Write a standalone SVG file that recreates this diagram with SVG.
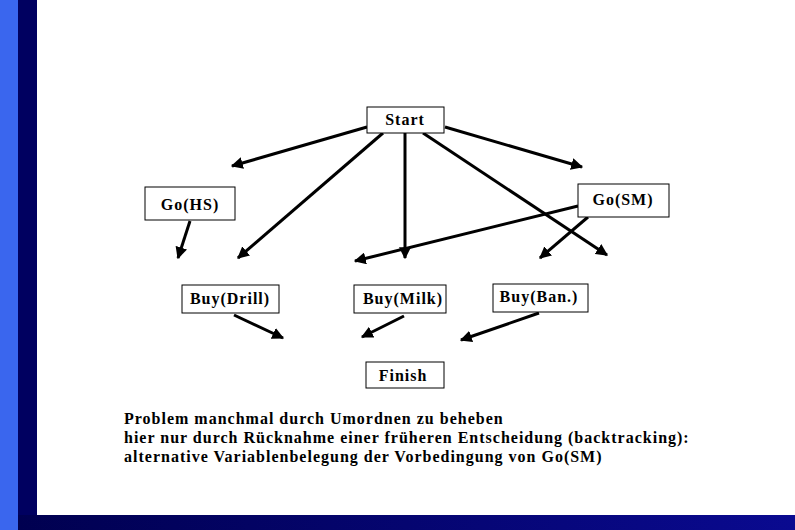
<svg xmlns="http://www.w3.org/2000/svg" width="795" height="530" viewBox="0 0 795 530">
<defs>
<linearGradient id="bot" x1="0" y1="0" x2="1" y2="0"><stop offset="0" stop-color="#000050"/><stop offset="1" stop-color="#0a0a90"/></linearGradient>
<marker id="ah" viewBox="0 0 10 10" refX="9" refY="5" markerWidth="4" markerHeight="4" orient="auto"><path d="M0,0 L10,5 L0,10 z" fill="#000"/></marker>
</defs>
<style>
.n rect{fill:#fff;stroke:#000;stroke-width:1}
.n text,.t{font-family:"Liberation Serif","DejaVu Serif",serif;font-weight:bold;font-size:16px;fill:#000;letter-spacing:1px}
.n text{text-anchor:middle}
#edges line{stroke:#000;stroke-width:3;marker-end:url(#ah)}
</style>
<rect width="795" height="530" fill="#fff"/>
<rect x="0" y="0" width="18" height="530" fill="#3a66ee"/>
<rect x="18" y="0" width="19" height="530" fill="#000060"/>
<rect x="18" y="515" width="777" height="15" fill="url(#bot)"/>
<g id="edges">
<line x1="367" y1="127" x2="232" y2="166"/>
<line x1="445" y1="127" x2="582" y2="167"/>
<line x1="383" y1="133" x2="238" y2="258"/>
<line x1="405" y1="133" x2="405" y2="258"/>
<line x1="423" y1="133" x2="607" y2="255"/>
<line x1="190" y1="221" x2="178" y2="258"/>
<line x1="578" y1="206" x2="355" y2="261"/>
<line x1="588" y1="217" x2="540" y2="258"/>
<line x1="234" y1="315" x2="283" y2="338"/>
<line x1="404" y1="316" x2="362" y2="337"/>
<line x1="539" y1="313" x2="461" y2="340"/>
</g>
<g id="start" class="n"><rect x="367" y="107" width="77" height="26"/><text x="405" y="125">Start</text></g>
<g id="gohs" class="n"><rect x="145" y="187" width="90" height="33"/><text x="190" y="210">Go(HS)</text></g>
<g id="gosm" class="n"><rect x="578" y="184" width="91" height="33"/><text x="623" y="205">Go(SM)</text></g>
<g id="buydrill" class="n"><rect x="182" y="285" width="97" height="28"/><text x="230" y="304">Buy(Drill)</text></g>
<g id="buymilk" class="n"><rect x="354" y="285" width="92" height="28"/><text x="403" y="304">Buy(Milk)</text></g>
<g id="buyban" class="n"><rect x="493" y="284" width="95" height="28"/><text x="539" y="302">Buy(Ban.)</text></g>
<g id="finish" class="n"><rect x="366" y="362" width="78" height="26"/><text x="403" y="381">Finish</text></g>
<text class="t" x="124" y="424">Problem manchmal durch Umordnen zu beheben</text>
<text class="t" x="124" y="443">hier nur durch Rücknahme einer früheren Entscheidung (backtracking):</text>
<text class="t" x="124" y="462">alternative Variablenbelegung der Vorbedingung von Go(SM)</text>
</svg>
